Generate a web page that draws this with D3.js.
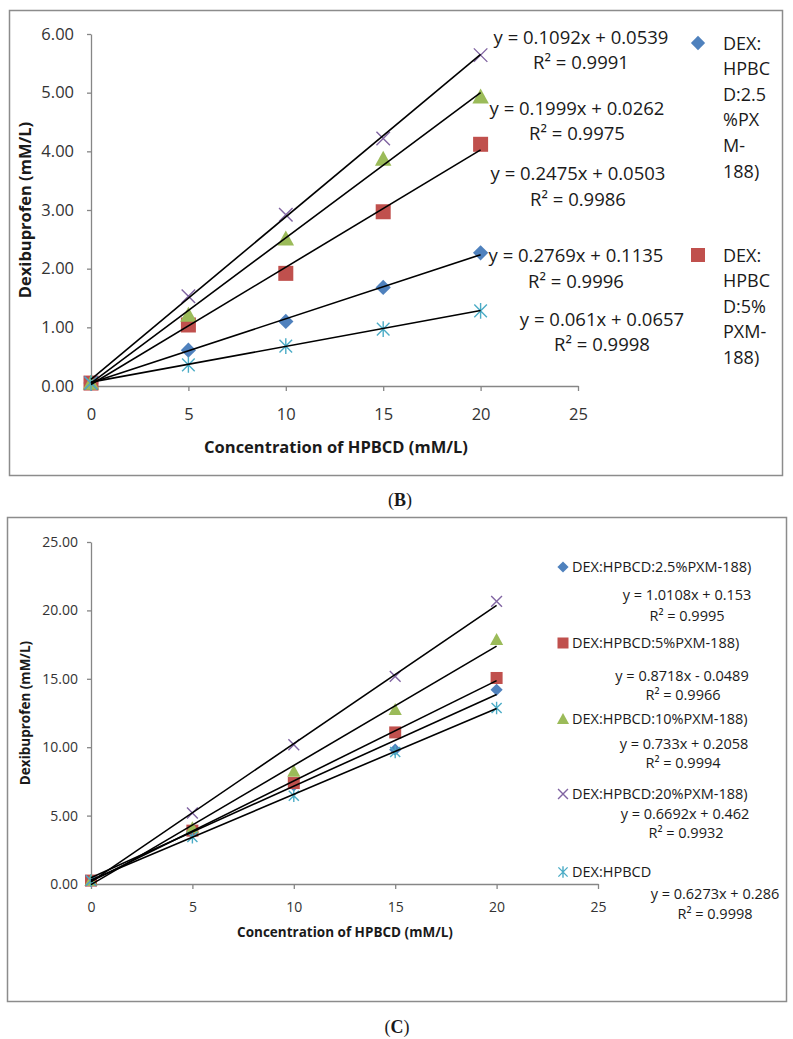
<!DOCTYPE html>
<html lang="en">
<head>
<meta charset="utf-8">
<script src="https://cdn.jsdelivr.net/npm/d3@7"></script>
<style>
  body { margin: 0; background: #fff; }
  svg text { font-family: "Open Sans", sans-serif; fill: #1a1a1a; }
  .axis path, .axis line { stroke: #868686; stroke-width: 1.3; fill: none; }
  .axis text { fill: #333; }
  .frame { fill: none; stroke: #8c8c8c; stroke-width: 1.5; }
</style>
</head>
<body>
<script>
// x values shared by both panels
const concentration = [0, 5, 10, 15, 20];
const xTicks = [0, 5, 10, 15, 20, 25];

const seriesLabels = ["DEX:HPBCD:2.5%PXM-188)", "DEX:HPBCD:5%PXM-188)",
  "DEX:HPBCD:10%PXM-188)", "DEX:HPBCD:20%PXM-188)", "DEX:HPBCD"];
const seriesColors = ["#4F81BD", "#C0504D", "#9BBB59", "#8064A2", "#4BACC6"];
const seriesShapes = ["diamond", "square", "triangle", "cross", "star"];

// panel B points
const b25 = [0.05, 0.61, 1.10, 1.68, 2.27];
const b5 = [0.05, 1.04, 1.92, 2.97, 4.12];
const b10 = [0.05, 1.21, 2.51, 3.87, 4.93];
const b20 = [0.05, 1.53, 2.92, 4.22, 5.64];
const bPlain = [0.05, 0.36, 0.68, 0.97, 1.28];
const yTicksB = [0, 1, 2, 3, 4, 5, 6];
// panel B trendlines
const slopesB = [0.1092, 0.1999, 0.2475, 0.2769, 0.061];
const interceptsB = [0.0539, 0.0262, 0.0503, 0.1135, 0.0657];
const r2B = [0.9991, 0.9975, 0.9986, 0.9996, 0.9998];
const legendLinesB = [["DEX:", "HPBC", "D:2.5", "%PX", "M-", "188)"],
  ["DEX:", "HPBC", "D:5%", "PXM-", "188)"]];

// panel C points
const c25 = [0.25, 3.80, 7.20, 9.82, 14.20];
const c5 = [0.25, 3.90, 7.38, 11.08, 15.06];
const c10 = [0.25, 4.10, 8.23, 12.74, 17.86];
const c20 = [0.25, 5.19, 10.18, 15.18, 20.66];
const cPlain = [0.25, 3.43, 6.45, 9.65, 12.87];
const yTicksC = [0, 5, 10, 15, 20, 25];
// panel C trendlines
const slopesC = [0.6692, 0.733, 0.8718, 1.0108, 0.6273];
const interceptsC = [0.462, 0.2058, -0.0489, 0.153, 0.286];
const r2C = [0.9932, 0.9994, 0.9966, 0.9995, 0.9998];

const W = 793, H = 1039;
const svg = d3.select("body").append("svg").attr("width", W).attr("height", H);

function eqText(m, b) {
  return "y = " + m + "x " + (b < 0 ? "- " + Math.abs(b) : "+ " + b);
}

function marker(g, shape, color, s) {
  if (shape === "diamond") {
    g.append("rect").attr("x", -s * 0.36).attr("y", -s * 0.36)
      .attr("width", s * 0.72).attr("height", s * 0.72)
      .attr("transform", "rotate(45)").attr("fill", color);
  } else if (shape === "square") {
    g.append("rect").attr("x", -s / 2).attr("y", -s / 2)
      .attr("width", s).attr("height", s).attr("fill", color);
  } else if (shape === "triangle") {
    g.append("path").attr("d", `M0,${-s * 0.55}L${s * 0.55},${s * 0.45}L${-s * 0.55},${s * 0.45}Z`)
      .attr("fill", color);
  } else if (shape === "cross") {
    const h = s * 0.45;
    g.append("path").attr("d", `M${-h},${-h}L${h},${h}M${h},${-h}L${-h},${h}`)
      .attr("stroke", color).attr("stroke-width", 1.4).attr("fill", "none");
  } else {
    const h = s * 0.42;
    g.append("path").attr("d", `M${-h},${-h}L${h},${h}M${h},${-h}L${-h},${h}M0,${-h * 1.25}L0,${h * 1.25}`)
      .attr("stroke", color).attr("stroke-width", 1.4).attr("fill", "none");
  }
}

function drawPanel(p) {
  const x = d3.scaleLinear().domain([0, 25]).range(p.xRange);
  const y = d3.scaleLinear().domain(p.yDomain).range(p.yRange);
  const g = svg.append("g");

  g.append("rect").attr("class", "frame")
    .attr("x", p.frame[0]).attr("y", p.frame[1])
    .attr("width", p.frame[2]).attr("height", p.frame[3]);

  g.append("g").attr("class", "axis")
    .attr("transform", `translate(0,${p.yRange[0]})`)
    .call(d3.axisBottom(x).tickValues(xTicks).tickSize(5).tickSizeOuter(0).tickPadding(p.xPad))
    .call(a => a.selectAll("text").attr("font-size", p.tickFont));

  g.append("g").attr("class", "axis")
    .attr("transform", `translate(${p.xRange[0]},0)`)
    .call(d3.axisLeft(y).tickValues(p.yTicks).tickFormat(d3.format(".2f"))
      .tickSize(4).tickSizeOuter(0).tickPadding(p.yPad))
    .call(a => a.selectAll("text").attr("font-size", p.tickFont));

  // markers
  p.values.forEach((vals, i) => {
    vals.forEach((v, j) => {
      const m = g.append("g").attr("transform", `translate(${x(concentration[j])},${y(v)})`);
      marker(m, seriesShapes[i], seriesColors[i], p.markSize);
    });
  });

  // linear trendlines
  p.slopes.forEach((m, i) => {
    const x0 = concentration[0], x1 = concentration[concentration.length - 1];
    g.append("line")
      .attr("x1", x(x0)).attr("y1", y(m * x0 + p.intercepts[i]))
      .attr("x2", x(x1)).attr("y2", y(m * x1 + p.intercepts[i]))
      .attr("stroke", "#000").attr("stroke-width", 1.6);
  });

  // trendline labels
  p.slopes.forEach((m, i) => {
    const pos = p.eqPos[i];
    g.append("text").attr("x", pos[0]).attr("y", pos[1] + p.eqFont * 0.36)
      .attr("text-anchor", "middle").attr("font-size", p.eqFont)
      .text(eqText(m, p.intercepts[i]));
    g.append("text").attr("x", pos[2]).attr("y", pos[3] + p.eqFont * 0.36)
      .attr("text-anchor", "middle").attr("font-size", p.eqFont)
      .text("R² = " + p.r2[i]);
  });

  // axis titles
  g.append("text").attr("x", p.xTitle[0]).attr("y", p.xTitle[1] + p.titleFont * 0.36)
    .attr("text-anchor", "middle").attr("font-weight", "bold").attr("font-size", p.titleFont)
    .text("Concentration of HPBCD (mM/L)");
  g.append("text")
    .attr("transform", `translate(${p.yTitle[0] + p.titleFont * 0.36},${p.yTitle[1]}) rotate(-90)`)
    .attr("text-anchor", "middle").attr("font-weight", "bold").attr("font-size", p.titleFont)
    .text("Dexibuprofen (mM/L)");

  // panel caption
  const cap = g.append("text").attr("x", p.caption[0]).attr("y", p.caption[1])
    .attr("text-anchor", "middle").attr("font-size", 18)
    .style("font-family", "'Liberation Serif', serif");
  cap.append("tspan").text("(");
  cap.append("tspan").attr("font-weight", "bold").text(p.captionText);
  cap.append("tspan").text(")");
  return g;
}

// ---- panel B ----
const gB = drawPanel({
  frame: [9.5, 10.5, 773, 465],
  xRange: [91, 578], yDomain: [0, 6], yRange: [386, 34],
  yTicks: yTicksB, xPad: 17, yPad: 13, tickFont: 16.5,
  values: [b25, b5, b10, b20, bPlain], markSize: 15,
  slopes: slopesB, intercepts: interceptsB, r2: r2B,
  eqFont: 18.5,
  eqPos: [[581, 37, 581, 62], [577, 108, 577, 133], [578, 173, 578, 199],
    [576, 255, 576, 281], [602, 319, 602, 344]],
  titleFont: 16.5, xTitle: [336, 447], yTitle: [25, 210],
  caption: [400, 506], captionText: "B"
});

legendLinesB.forEach((lines, i) => {
  const top = [43, 255][i];
  const m = gB.append("g").attr("transform", `translate(698,${top})`);
  marker(m, seriesShapes[i], seriesColors[i], 14);
  lines.forEach((t, k) => {
    gB.append("text").attr("x", 723).attr("y", top + k * 25.6 + 6.5)
      .attr("font-size", 18).text(t);
  });
});

// ---- panel C ----
const gC = drawPanel({
  frame: [7.5, 517.5, 779, 484],
  xRange: [91, 598], yDomain: [0, 25], yRange: [884, 542],
  yTicks: yTicksC, xPad: 13, yPad: 9, tickFont: 14,
  values: [c25, c5, c10, c20, cPlain], markSize: 12,
  slopes: slopesC, intercepts: interceptsC, r2: r2C,
  eqFont: 14.5,
  eqPos: [[685, 814, 686, 833], [684, 744, 683, 763], [682, 676, 683, 695],
    [687, 595, 687, 616], [715, 894, 715, 914]],
  titleFont: 13.5, xTitle: [345, 932], yTitle: [25, 713],
  caption: [397, 1033], captionText: "C"
});

seriesLabels.forEach((t, i) => {
  const top = [567, 643, 719, 794, 872][i];
  const m = gC.append("g").attr("transform", `translate(563,${top})`);
  marker(m, seriesShapes[i], seriesColors[i], 11);
  gC.append("text").attr("x", 572).attr("y", top + 5.2)
    .attr("font-size", 14.5).text(t);
});
</script>
</body>
</html>
